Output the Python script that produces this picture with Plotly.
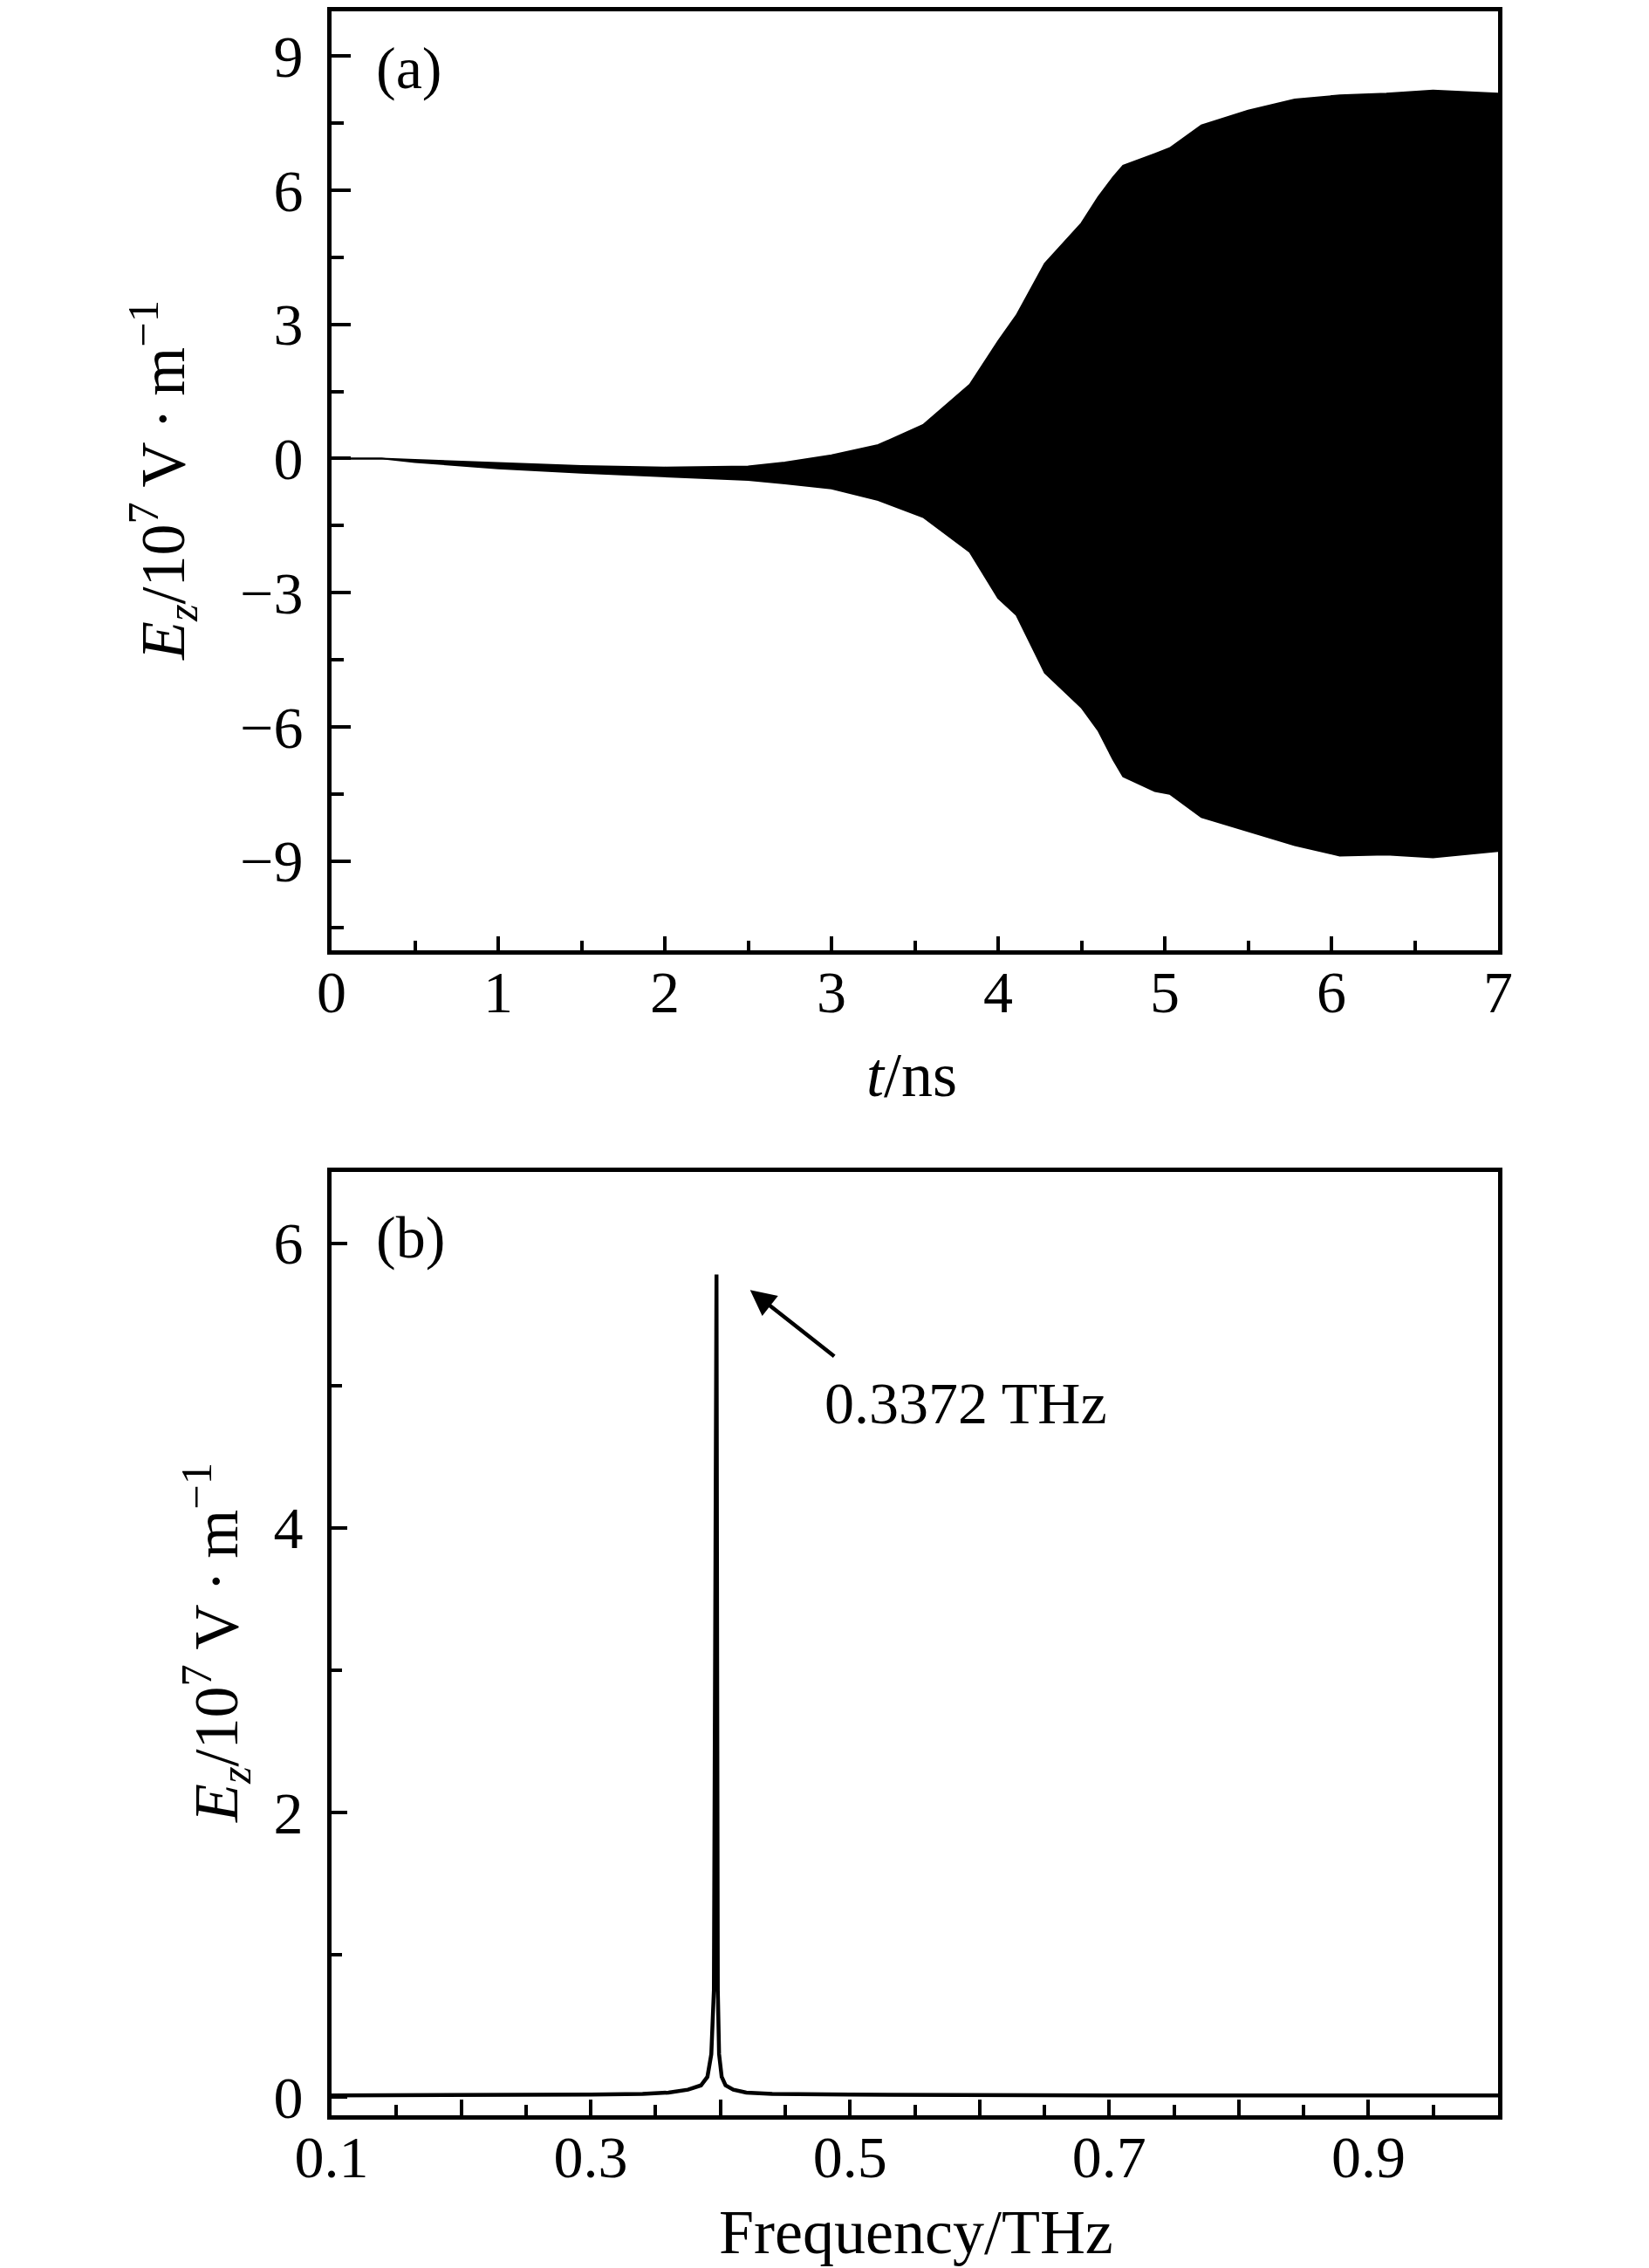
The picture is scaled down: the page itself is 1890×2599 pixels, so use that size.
import plotly.graph_objects as go

# ---------------- data (a): envelope of E_z(t) ----------------
t_env = [0.0, 0.3, 0.5, 1.0, 1.5, 2.0, 2.5, 2.72, 3.0, 3.28, 3.55, 3.83, 4.0, 4.11,
         4.28, 4.5, 4.6, 4.69, 4.75, 4.94, 5.03, 5.22, 5.5, 5.78, 6.05, 6.33, 6.61, 7.0]
ez_upper = [0.0, 0.0, -0.03, -0.1, -0.17, -0.2, -0.18, -0.09, 0.07, 0.30, 0.75, 1.65, 2.62, 3.2,
            4.36, 5.26, 5.84, 6.29, 6.55, 6.81, 6.94, 7.45, 7.78, 8.03, 8.12, 8.16, 8.23, 8.16]
ez_lower = [0.0, 0.0, -0.08, -0.22, -0.32, -0.4, -0.48, -0.56, -0.67, -0.93, -1.31, -2.09, -3.12, -3.5,
            -4.79, -5.57, -6.08, -6.73, -7.11, -7.44, -7.5, -8.02, -8.34, -8.65, -8.88, -8.86, -8.92, -8.78]

# ---------------- data (b): spectrum ----------------
freq = [0.10, 0.20, 0.30, 0.34, 0.36, 0.375, 0.385, 0.390, 0.393, 0.395, 0.396, 0.3965,
        0.397, 0.3975, 0.398, 0.399, 0.401, 0.404, 0.41, 0.42, 0.44, 0.50, 0.60, 0.70,
        0.80, 0.90, 1.00]
spec = [0.01, 0.01, 0.015, 0.02, 0.03, 0.05, 0.08, 0.14, 0.3, 0.75, 3.1, 3.15,
        5.78, 3.1, 0.75, 0.3, 0.14, 0.08, 0.05, 0.03, 0.02, 0.015, 0.01, 0.01,
        0.01, 0.01, 0.01]

ya_ticks = [-9, -6, -3, 0, 3, 6, 9]
ya_text = ["\u22129", "\u22126", "\u22123", "0", "3", "6", "9"]
xb_ticks = [0.1, 0.2, 0.3, 0.4, 0.5, 0.6, 0.7, 0.8, 0.9, 1.0]
xb_text = ["0.1", "", "0.3", "", "0.5", "", "0.7", "", "0.9", ""]
peak_label = "0.3372 THz"

FONT = "Liberation Serif"
FS = 68
W, H = 1890, 2599

fig = go.Figure()
fig.add_trace(go.Scatter(x=t_env, y=ez_upper, mode="lines",
                         line=dict(color="black", width=2), showlegend=False,
                         xaxis="x", yaxis="y"))
fig.add_trace(go.Scatter(x=t_env, y=ez_lower, mode="lines", fill="tonexty",
                         fillcolor="black", line=dict(color="black", width=2),
                         showlegend=False, xaxis="x", yaxis="y"))
fig.add_trace(go.Scatter(x=freq, y=spec, mode="lines",
                         line=dict(color="black", width=4.5), showlegend=False,
                         xaxis="x2", yaxis="y2"))

def px_x(p):
    return p / W

def px_y(p):
    return (H - p) / H

xdom = [px_x(380), px_x(1717)]
ax_common = dict(showline=True, linewidth=5, linecolor="black", mirror=True, automargin=False,
                 ticks="inside", tickwidth=4, tickcolor="black", showgrid=False,
                 zeroline=False, tickfont=dict(family=FONT, size=FS, color="black"))

fig.update_layout(
    width=W, height=H,
    margin=dict(l=0, r=0, t=0, b=0, autoexpand=False),
    paper_bgcolor="white", plot_bgcolor="white",
    font=dict(family=FONT, size=FS, color="black"),
    xaxis=dict(domain=xdom, anchor="y", range=[0, 7], tickmode="linear", tick0=0, dtick=1,
               ticklen=16, ticklabelstandoff=-16,
               minor=dict(ticks="inside", dtick=0.5, tick0=0, ticklen=11, tickwidth=4, tickcolor="black"),
               **ax_common),
    yaxis=dict(domain=[px_y(1089), px_y(13)], anchor="x", range=[-11, 10],
               tickmode="array", tickvals=ya_ticks, ticktext=ya_text,
               ticklen=22, ticklabelstandoff=14,
               minor=dict(ticks="inside", dtick=1.5, tick0=0, ticklen=14, tickwidth=4, tickcolor="black"),
               **ax_common),
    xaxis2=dict(domain=xdom, anchor="y2", range=[0.1, 1.0],
                tickmode="array", tickvals=xb_ticks, ticktext=xb_text,
                ticklen=18, ticklabelstandoff=-16,
                minor=dict(ticks="inside", dtick=0.05, tick0=0.1, ticklen=12, tickwidth=4, tickcolor="black"),
                **ax_common),
    yaxis2=dict(domain=[px_y(2424), px_y(1343)], anchor="x2", range=[-0.13, 6.5],
                tickmode="linear", tick0=0, dtick=2,
                ticklen=18, ticklabelstandoff=14,
                minor=dict(ticks="inside", dtick=1, tick0=0, ticklen=12, tickwidth=4, tickcolor="black"),
                **ax_common),
)

ytitle = "<i>E<sub>z</sub></i>/10<sup>7</sup> V\u2009\u00b7\u2009m<sup>\u22121</sup>"
annos = [
    dict(text="(a)", x=px_x(468), y=px_y(78), xref="paper", yref="paper",
         showarrow=False, xanchor="center", yanchor="middle", font=dict(size=FS)),
    dict(text="(b)", x=px_x(470), y=px_y(1418), xref="paper", yref="paper",
         showarrow=False, xanchor="center", yanchor="middle", font=dict(size=FS)),
    dict(text=ytitle, x=px_x(187), y=px_y(551), xref="paper", yref="paper", textangle=-90,
         showarrow=False, xanchor="center", yanchor="middle", font=dict(size=FS + 4)),
    dict(text=ytitle, x=px_x(247), y=px_y(1883), xref="paper", yref="paper", textangle=-90,
         showarrow=False, xanchor="center", yanchor="middle", font=dict(size=FS + 4)),
    dict(text="<i>t</i>/ns", x=px_x(1045), y=px_y(1232), xref="paper", yref="paper",
         showarrow=False, xanchor="center", yanchor="middle", font=dict(size=FS + 4)),
    dict(text="Frequency/THz", x=px_x(1050), y=px_y(2558), xref="paper", yref="paper",
         showarrow=False, xanchor="center", yanchor="middle", font=dict(size=FS + 4)),
    dict(text=peak_label, x=px_x(1107), y=px_y(1608), xref="paper", yref="paper",
         showarrow=False, xanchor="center", yanchor="middle", font=dict(size=FS)),
    dict(text="", x=0.4229, y=5.67, xref="x2", yref="y2", ax=98, ay=77,
         showarrow=True, arrowhead=2, arrowsize=1.3, arrowwidth=4.5, arrowcolor="black"),
]
fig.update_layout(annotations=annos)

fig.write_html("out.html",
               config={"displayModeBar": False},
               post_script="document.body.style.margin='0';document.body.style.padding='0';"
                           "document.body.style.overflow='hidden';")
